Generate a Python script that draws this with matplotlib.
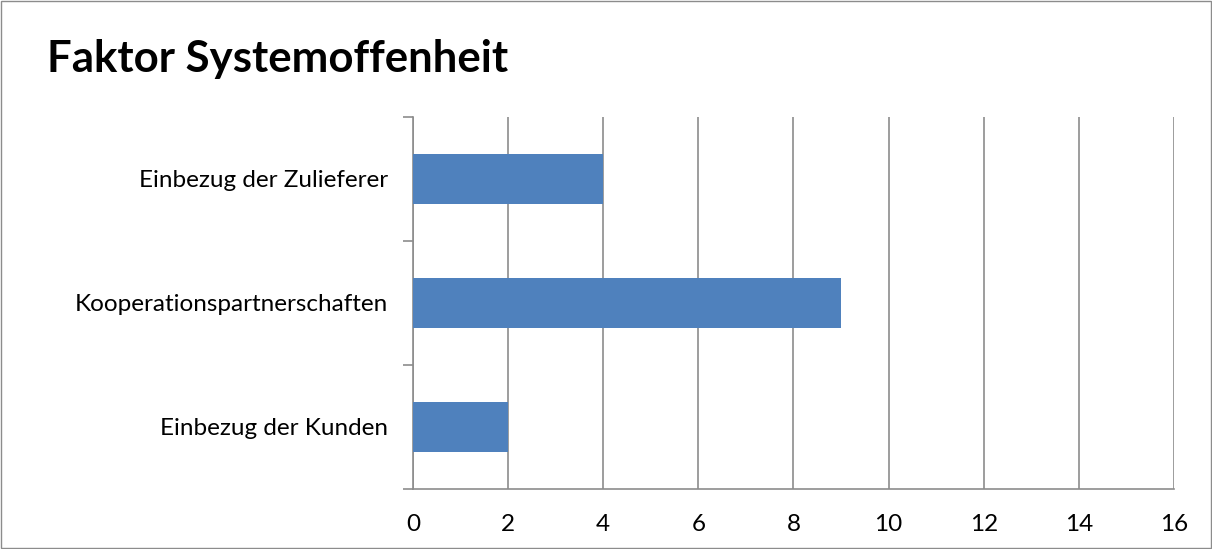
import matplotlib.pyplot as plt
from matplotlib.patches import Rectangle

categories = ["Einbezug der Kunden", "Kooperationspartnerschaften", "Einbezug der Zulieferer"]
values = [2, 9, 4]
x_ticks = [0, 2, 4, 6, 8, 10, 12, 14, 16]

plt.rcParams['font.family'] = ['Lato', 'DejaVu Sans']

fig = plt.figure(figsize=(12.12, 5.49), dpi=100)
ax = fig.add_axes([0.3408, 0.1093, 0.9686 - 0.3408, 0.7869 - 0.1093])

ax.barh(range(len(categories)), values, height=0.4, color="#4F81BD", zorder=3)

ax.set_xlim(0, 16)
ax.set_ylim(-0.5, len(categories) - 0.5)
ax.set_xticks(x_ticks)
ax.set_xticklabels([str(t) for t in x_ticks], fontsize=17.5)
ax.set_yticks(range(len(categories)))
ax.set_yticklabels(categories, fontsize=17.5)
ax.tick_params(axis='y', length=0, pad=18)
ax.tick_params(axis='x', length=0, pad=18)

# minor ticks at category boundaries
ax.set_yticks([i - 0.5 for i in range(len(categories) + 1)], minor=True)
ax.tick_params(axis='y', which='minor', length=7, color='#8c8c8c', width=1.2)
ax.set_xticks(x_ticks, minor=True)
ax.tick_params(axis='x', which='minor', length=8, color='#8c8c8c', width=1.2)

ax.grid(axis='x', color='#8c8c8c', linewidth=1.2, zorder=0)
for side in ['top', 'right']:
    ax.spines[side].set_visible(False)
for side in ['left', 'bottom']:
    ax.spines[side].set_color('#8c8c8c')
    ax.spines[side].set_linewidth(1.2)

fig.text(0.039, 0.893, "Faktor Systemoffenheit", fontsize=31.5, fontweight='bold', ha='left', va='center')

fig.patches.append(Rectangle((0.0008, 0.0015), 0.9984, 0.997, transform=fig.transFigure,
                             fill=False, edgecolor='#8c8c8c', linewidth=1))

fig.savefig("out.png", dpi=100)
